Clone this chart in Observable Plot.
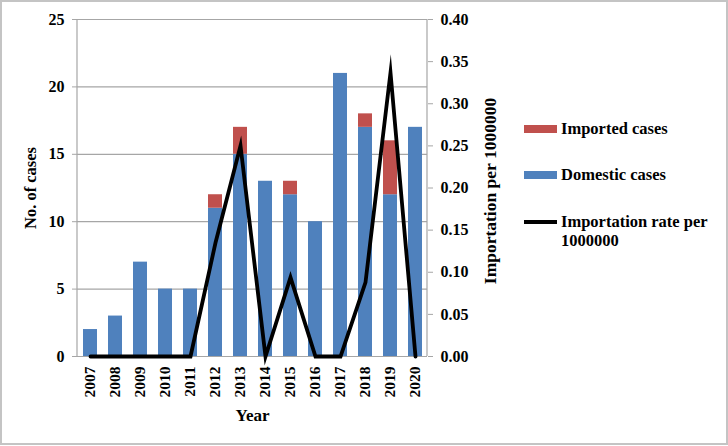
<!DOCTYPE html>
<html>
<head>
<meta charset="utf-8">
<script src="https://cdn.jsdelivr.net/npm/d3@7"></script>
<script src="https://cdn.jsdelivr.net/npm/@observablehq/plot@0.6"></script>
<style>
  html, body { margin: 0; padding: 0; background: #fff; }
  #wrap { position: relative; width: 728px; height: 446px; font-family: "Liberation Serif", "Times New Roman", serif; font-weight: bold; }
  #border { position: absolute; left: 0; top: 0; width: 724px; height: 441px; border: 2px solid #c4c4c4; pointer-events: none; }
  .leg { position: absolute; font-size: 16.5px; color: #000; line-height: 19px; }
  .sw { position: absolute; }
</style>
</head>
<body>
<div id="wrap">
  <div id="chart"></div>
  <div id="border"></div>
</div>
<script>
const years = ["2007","2008","2009","2010","2011","2012","2013","2014","2015","2016","2017","2018","2019","2020"];
const domestic = [2, 3, 7, 5, 5, 11, 15, 13, 12, 10, 21, 17, 12, 17];
const imported = [0, 0, 0, 0, 0, 1, 2, 0, 1, 0, 0, 1, 4, 0];
const rate = [0, 0, 0, 0, 0, 0.135, 0.25, 0, 0.094, 0, 0, 0.088, 0.337, 0];
const leftTicks = [0, 5, 10, 15, 20, 25];
const rightTicks = [0, 0.05, 0.10, 0.15, 0.20, 0.25, 0.30, 0.35, 0.40];
const seriesNames = ["Domestic cases", "Imported cases"];
const seriesColors = ["#4F81BD", "#C0504D"];
const rateName = "Importation rate per 1000000";

const factor = 25 / 0.40; // right axis mapped onto left axis

const bars = [];
years.forEach((y, i) => bars.push({year: y, series: seriesNames[0], value: domestic[i]}));
years.forEach((y, i) => bars.push({year: y, series: seriesNames[1], value: imported[i]}));
const lineData = years.map((y, i) => ({year: y, v: rate[i] * factor}));

const font = "Liberation Serif, Times New Roman, serif";

const plot = Plot.plot({
  width: 728,
  height: 446,
  marginLeft: 77,
  marginRight: 301,
  marginTop: 19,
  marginBottom: 90,
  style: {fontFamily: font, fontWeight: "bold", fontSize: "16px", color: "#000", background: "transparent"},
  x: {domain: years, paddingInner: 0.44, paddingOuter: 0.22, label: null},
  y: {domain: [0, 25], label: null},
  color: {domain: seriesNames, range: seriesColors},
  marks: [
    Plot.ruleY(leftTicks.filter(d => d > 0), {stroke: "#a6a6a6", strokeWidth: 1.2}),
    Plot.barY(bars, {x: "year", y: "value", fill: "series", order: seriesNames}),
    Plot.ruleY([0], {stroke: "#a6a6a6", strokeWidth: 1.2}),
    Plot.axisY(leftTicks, {anchor: "left", tickSize: 5, tickPadding: 8, stroke: "#a6a6a6", fontSize: 16, tickFormat: d => String(d), label: null}),
    Plot.axisY(rightTicks.map(d => d * factor), {anchor: "right", tickSize: 5, tickPadding: 8, stroke: "#a6a6a6", fontSize: 16, tickFormat: d => (d / factor).toFixed(2), label: null}),
    Plot.axisX(years, {anchor: "bottom", tickSize: 0, tickPadding: 10, tickRotate: -90, fontSize: 15.5, label: null}),
    Plot.line(lineData, {x: "year", y: "v", stroke: "#000", strokeWidth: 3.8, strokeLinejoin: "miter", strokeMiterlimit: 10}),
    Plot.text(["No. of cases"], {frameAnchor: "left", textAnchor: "middle", dx: -47, rotate: -90, fontSize: 16.5, fontWeight: "bold"}),
    Plot.text(["Importation per 1000000"], {frameAnchor: "right", textAnchor: "middle", dx: 63, dy: 3, rotate: -90, fontSize: 17.5, fontWeight: "bold"}),
    Plot.text(["Year"], {frameAnchor: "bottom", dy: 64, fontSize: 17, fontWeight: "bold"})
  ]
});

const svg = d3.select(plot);
svg.selectAll("text").attr("fill", "#000");
// vertical axis lines
svg.append("line").attr("x1", 77).attr("x2", 77).attr("y1", 19).attr("y2", 356).attr("stroke", "#a6a6a6").attr("stroke-width", 1.2);
svg.append("line").attr("x1", 427).attr("x2", 427).attr("y1", 19).attr("y2", 356).attr("stroke", "#a6a6a6").attr("stroke-width", 1.2);

document.getElementById("chart").appendChild(plot);

// legend
const wrap = document.getElementById("wrap");
const legItems = [
  {name: seriesNames[1], type: "bar", color: seriesColors[1], y: 129},
  {name: seriesNames[0], type: "bar", color: seriesColors[0], y: 175},
  {name: rateName, type: "line", color: "#000", y: 222}
];
legItems.forEach(it => {
  const sw = document.createElement("div");
  sw.className = "sw";
  sw.style.left = "524px";
  sw.style.width = "33px";
  if (it.type === "bar") {
    sw.style.top = (it.y - 4) + "px";
    sw.style.height = "8px";
  } else {
    sw.style.top = (it.y - 2) + "px";
    sw.style.height = "4px";
  }
  sw.style.background = it.color;
  wrap.appendChild(sw);
  const t = document.createElement("div");
  t.className = "leg";
  t.style.left = "561px";
  t.style.top = (it.y - 10) + "px";
  t.style.width = "160px";
  t.textContent = it.name;
  wrap.appendChild(t);
});
</script>
</body>
</html>
